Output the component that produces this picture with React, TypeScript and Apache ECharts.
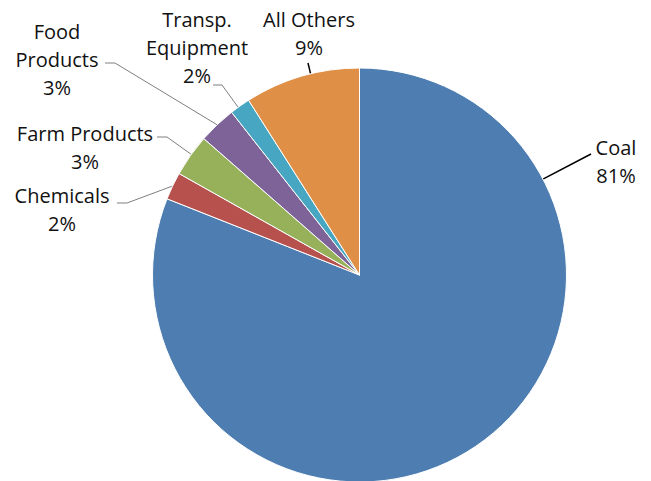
import React, { useEffect, useRef } from "react";
import * as echarts from "echarts";

const categories = ["Coal", "Chemicals", "Farm Products", "Food Products", "Transp. Equipment", "All Others"];
const labelNames = ["Coal", "Chemicals", "Farm Products", "Food\nProducts", "Transp.\nEquipment", "All Others"];
const values = [81.0, 2.15, 3.3, 2.95, 1.6, 9.0];
const colors = ["#4E7EB1", "#B6514E", "#97B15B", "#7E6399", "#47A6C1", "#DF8F46"];
const lineColors = ["#000000", "#7f7f7f", "#7f7f7f", "#7f7f7f", "#7f7f7f", "#000000"];
const lineWidths = [1.5, 1, 1, 1, 1, 1.5];
const labelX = [616, 62, 85, 57, 197, 309];
const labelY = [161, 209, 147, 59, 47, 33];
// text-side end of each leader line, and its short horizontal tail
const leaderFromX = [591, 117, 157, 105, 213, 308];
const leaderFromY = [154, 203, 137, 63, 85, 63];
const leaderTail = [0, 10, 10, 10, 9, 0];

const CX = 359.5;
const CY = 275;
const R = 207;

function arcPoint(a: number): number[] {
  return [CX + R * Math.sin(a), CY - R * Math.cos(a)];
}

function leaderPoints(i: number): number[][] {
  const total = values.reduce((s, v) => s + v, 0);
  let start = 0;
  for (let k = 0; k < i; k++) start += values[k];
  const a0 = (start / total) * Math.PI * 2;
  const a1 = ((start + values[i]) / total) * Math.PI * 2;
  const fx = leaderFromX[i];
  const fy = leaderFromY[i];
  const tx = fx + leaderTail[i];
  const ty = fy;
  let dir = Math.atan2(tx - CX, CY - ty);
  if (dir < 0) dir += Math.PI * 2;
  const a = dir >= a0 && dir <= a1 ? dir : (a0 + a1) / 2;
  const pts = [[fx, fy]];
  if (leaderTail[i] !== 0) pts.push([tx, ty]);
  pts.push(arcPoint(a));
  return pts;
}

export default function App() {
  const ref = useRef<HTMLDivElement>(null);
  useEffect(() => {
    const chart = echarts.init(ref.current!, null, { renderer: "svg" });
    chart.setOption({
      animation: false,
      series: [
        {
          type: "pie",
          center: [CX, CY],
          radius: R,
          startAngle: 90,
          clockwise: true,
          avoidLabelOverlap: false,
          itemStyle: { borderColor: "#ffffff", borderWidth: 1 },
          label: {
            show: true,
            position: "outside",
            fontFamily: "'Open Sans', sans-serif",
            fontSize: 20,
            lineHeight: 28,
            color: "#111111",
            align: "center",
            formatter: (p: any) => labelNames[p.dataIndex] + "\n" + Math.round(p.percent) + "%",
          },
          labelLine: { show: true, length: 10, length2: 10, smooth: false },
          labelLayout: (p: any) => ({
            x: labelX[p.dataIndex],
            y: labelY[p.dataIndex],
            align: "center",
            verticalAlign: "middle",
            labelLinePoints: leaderPoints(p.dataIndex),
          }),
          data: categories.map((name, i) => ({
            name,
            value: values[i],
            itemStyle: { color: colors[i] },
            labelLine: { lineStyle: { color: lineColors[i], width: lineWidths[i] } },
          })),
        },
      ],
    });
    return () => chart.dispose();
  }, []);
  return (
    <div
      ref={ref}
      style={{ position: "fixed", left: 0, top: 0, width: 651, height: 481, background: "#ffffff" }}
    />
  );
}
